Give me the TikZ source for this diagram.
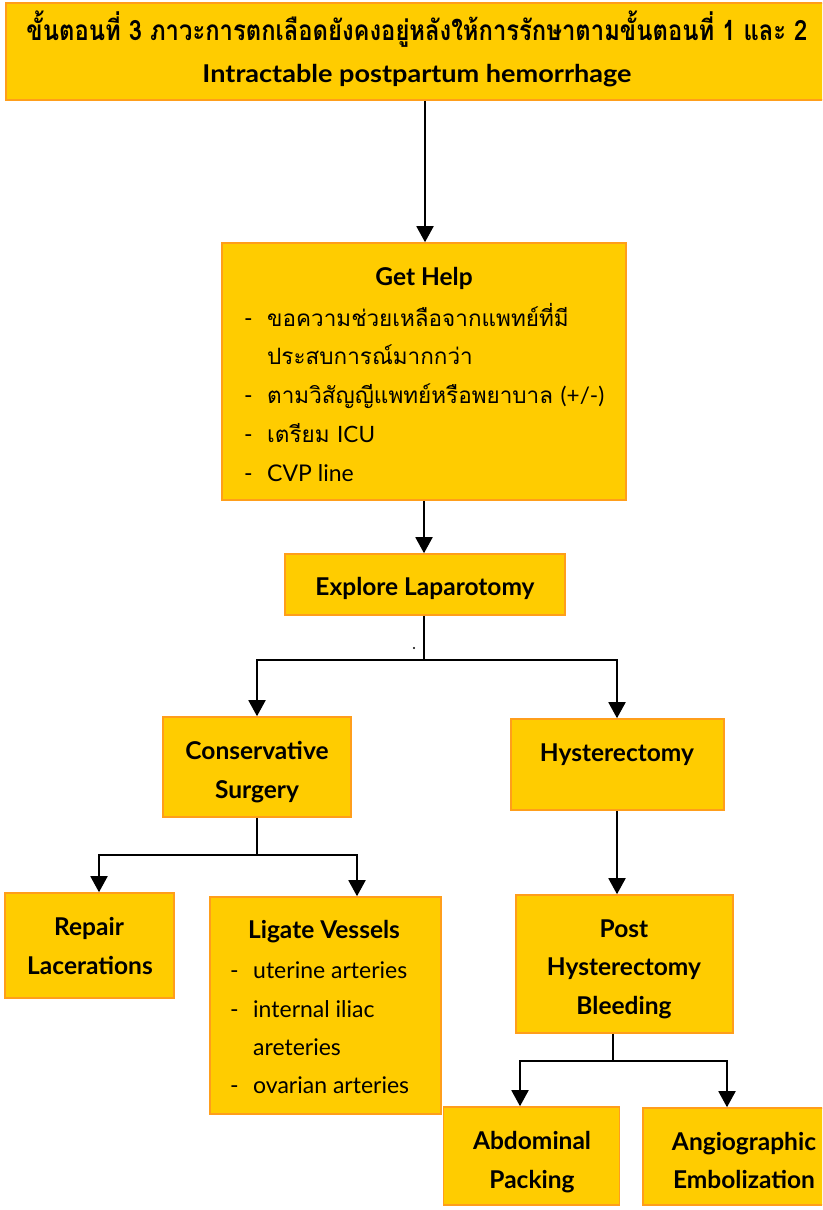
\documentclass[tikz,border=0pt]{standalone}
\usepackage{fontspec}
\usepackage{graphicx}
\setmainfont{Lato}
\newfontfamily\thaifont[Script=Thai]{Loma}
\usetikzlibrary{arrows.meta}

\definecolor{boxfill}{HTML}{FFCC00}
\definecolor{boxedge}{HTML}{FF9E1B}

\tikzset{
  box/.style={draw=boxedge, fill=boxfill, line width=1.6pt, inner sep=0pt},
  link/.style={line width=1.9pt, draw=black},
  arrowlink/.style={link, -{Triangle[width=17pt,length=16pt]}},
  head/.style={font=\fontsize{24.5}{28}\selectfont\bfseries, inner sep=0pt, anchor=base},
  item/.style={font=\fontsize{23}{27}\selectfont, inner sep=0pt, anchor=base west},
  thaiitem/.style={item, font=\thaifont\fontsize{22.5}{27}\selectfont},
}

\begin{document}
\begin{tikzpicture}[x=1pt, y=-1pt]
  \useasboundingbox (0,0) rectangle (822,1210);
  \clip (0,0) rectangle (822,1210);

  % ---- boxes ----
  \node[box, minimum width=826pt, minimum height=97pt] (top) at (419,51.5) {};
  \node[box, minimum width=404pt, minimum height=257pt] (help) at (424,371.5) {};
  \node[box, minimum width=280pt, minimum height=61pt] (explore) at (425,584.5) {};
  \node[box, minimum width=188pt, minimum height=100pt] (cons) at (257,767) {};
  \node[box, minimum width=213pt, minimum height=91pt] (hyst) at (617.5,764.5) {};
  \node[box, minimum width=169pt, minimum height=105pt] (repair) at (89.5,945.5) {};
  \node[box, minimum width=231pt, minimum height=217pt] (ligate) at (325.5,1005.5) {};
  \node[box, minimum width=217pt, minimum height=138pt] (post) at (624.5,964) {};
  \node[box, minimum width=176pt, minimum height=98pt] (pack) at (531.5,1156) {};
  \node[box, minimum width=190pt, minimum height=97pt] (angio) at (738,1156.5) {};

  % ---- texts ----
  \node[head] (t1) at (417,40) {\resizebox{781pt}{\height}{\thaifont\bfseries\fontsize{28}{30}\selectfont ขั้นตอนที่ 3 ภาวะการตกเลือดยังคงอยู่หลังให้การรักษาตามขั้นตอนที่ 1 และ 2}};
  \node[head] (t2) at (417,82) {\resizebox{429pt}{\height}{Intractable postpartum hemorrhage}};

  \node[head] (h0) at (424,285) {Get Help};
  \node[item] (h1d) at (244,326) {-};
  \node[thaiitem] (h1) at (267,326) {ขอความช่วยเหลือจากแพทย์ที่มี};
  \node[thaiitem] (h2) at (267,364) {ประสบการณ์มากกว่า};
  \node[item] (h3d) at (244,403) {-};
  \node[thaiitem] (h3) at (267,403) {ตามวิสัญญีแพทย์หรือพยาบาล \fontspec{Lato}(+/-)};
  \node[item] (h4d) at (244,442) {-};
  \node[thaiitem] (h4) at (267,442) {เตรียม \fontspec{Lato}ICU};
  \node[item] (h5d) at (244,481) {-};
  \node[item] (h5) at (267,481) {CVP line};

  \node[head] (e0) at (425,595) {Explore Laparotomy};

  \node[head] (c1) at (257,759) {Conservative};
  \node[head] (c2) at (257,798) {Surgery};

  \node[head] (y1) at (617,761) {Hysterectomy};

  \node[head] (r1) at (89,935) {Repair};
  \node[head] (r2) at (90,974) {Lacerations};

  \node[head] (l0) at (324,938) {Ligate Vessels};
  \node[item] (l1d) at (230,978) {-};
  \node[item] (l1) at (253,978) {uterine arteries};
  \node[item] (l2d) at (230,1017) {-};
  \node[item] (l2) at (253,1017) {internal iliac};
  \node[item] (l3) at (253,1055) {areteries};
  \node[item] (l4d) at (230,1093) {-};
  \node[item] (l4) at (253,1093) {ovarian arteries};

  \node[head] (p1) at (624,937) {Post};
  \node[head] (p2) at (624,975) {Hysterectomy};
  \node[head] (p3) at (624,1014) {Bleeding};

  \node[head] (a1) at (532,1149) {Abdominal};
  \node[head] (a2) at (532,1188) {Packing};

  \node[head] (g1) at (744,1150) {Angiographic};
  \node[head] (g2) at (744,1188) {Embolization};

  % ---- junction points ----
  \coordinate (j1) at (424,660);
  \coordinate (j2) at (257,855);
  \coordinate (j3) at (613,1061);

  % ---- connectors ----
  \draw[arrowlink] (top.south -| 425,0) -- (help.north -| 425,0);
  \draw[arrowlink] (help.south) -- (explore.north -| 424,0);
  \draw[link] (explore.south -| j1) -- (j1);
  \draw[arrowlink] (j1) -| (cons.north);
  \draw[arrowlink] (j1) -| (hyst.north -| 617,0);
  \fill (414,648) circle (1.2pt);

  \draw[link] (cons.south) -- (j2);
  \draw[arrowlink] (j2) -| (repair.north -| 99,0);
  \draw[arrowlink] (j2) -| (ligate.north -| 357,0);

  \draw[arrowlink] (hyst.south -| 617,0) -- (post.north -| 617,0);

  \draw[link] (post.south -| j3) -- (j3);
  \draw[arrowlink] (j3) -| (pack.north -| 520,0);
  \draw[arrowlink] (j3) -| (angio.north -| 727,0);
\end{tikzpicture}
\end{document}
